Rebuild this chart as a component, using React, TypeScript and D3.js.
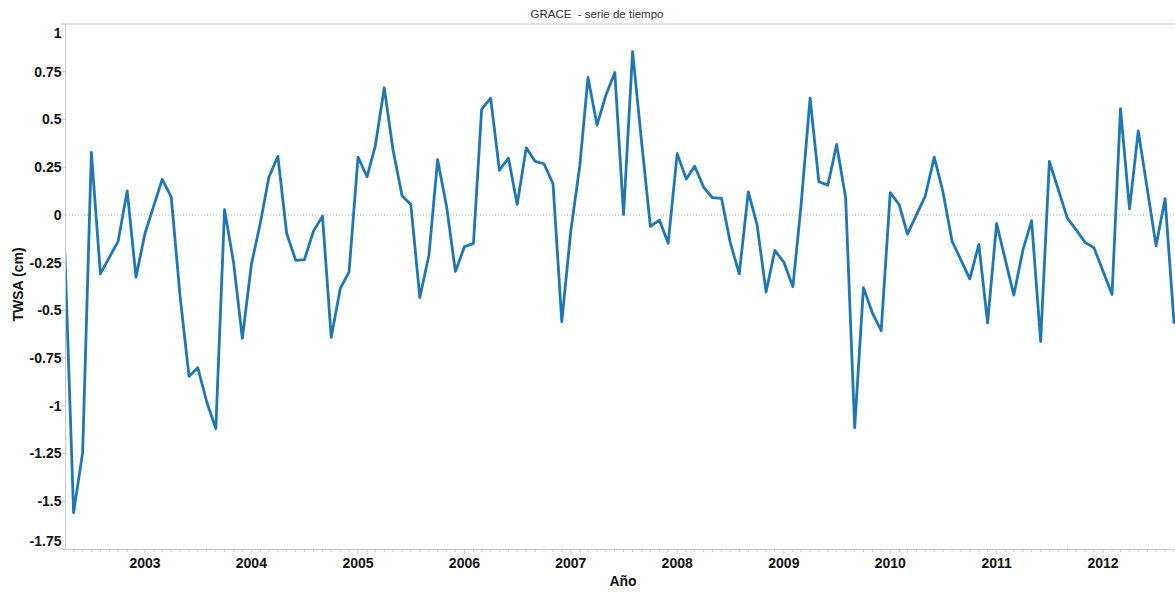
import React from 'react';
import * as d3 from 'd3';

// monthly GRACE series (some months are missing in the source)
const months = [
  '2002-04', '2002-05', '2002-06', '2002-07', '2002-08', '2002-10', '2002-11', '2002-12',
  '2003-01', '2003-03', '2003-04', '2003-05', '2003-06', '2003-07', '2003-08', '2003-09', '2003-10', '2003-11', '2003-12',
  '2004-01', '2004-02', '2004-03', '2004-04', '2004-05', '2004-06', '2004-07', '2004-08', '2004-09', '2004-10', '2004-11', '2004-12',
  '2005-01', '2005-02', '2005-03', '2005-04', '2005-05', '2005-06', '2005-07', '2005-08', '2005-09', '2005-10', '2005-11', '2005-12',
  '2006-01', '2006-02', '2006-03', '2006-04', '2006-05', '2006-06', '2006-07', '2006-08', '2006-09', '2006-10', '2006-11', '2006-12',
  '2007-01', '2007-02', '2007-03', '2007-04', '2007-05', '2007-06', '2007-07', '2007-08', '2007-09', '2007-10', '2007-11', '2007-12',
  '2008-01', '2008-02', '2008-03', '2008-04', '2008-05', '2008-06', '2008-07', '2008-08', '2008-09', '2008-10', '2008-11', '2008-12',
  '2009-01', '2009-02', '2009-03', '2009-04', '2009-05', '2009-06', '2009-07', '2009-08', '2009-09', '2009-10', '2009-11', '2009-12',
  '2010-01', '2010-02', '2010-03', '2010-05', '2010-06', '2010-07', '2010-08', '2010-10', '2010-11', '2010-12',
  '2011-01', '2011-03', '2011-04', '2011-05', '2011-06', '2011-07', '2011-09', '2011-10', '2011-11', '2011-12',
  '2012-02', '2012-03', '2012-04', '2012-05', '2012-07', '2012-08', '2012-09',
];

const twsa = [
  -0.195, -1.56, -1.245, 0.328, -0.309, -0.137, 0.126, -0.326,
  -0.096, 0.186, 0.094, -0.42, -0.846, -0.8, -0.98, -1.12, 0.027, -0.25, -0.647,
  -0.26, -0.04, 0.197, 0.307, -0.096, -0.238, -0.234, -0.085, -0.007, -0.642, -0.385, -0.3,
  0.303, 0.2, 0.36, 0.666, 0.34, 0.1, 0.055, -0.433, -0.213, 0.289, 0.041, -0.296,
  -0.167, -0.149, 0.553, 0.612, 0.234, 0.298, 0.055, 0.351, 0.28, 0.268, 0.163, -0.559,
  -0.083, 0.259, 0.72, 0.47, 0.626, 0.746, 0.002, 0.855, 0.38, -0.06, -0.027, -0.149,
  0.321, 0.188, 0.255, 0.144, 0.09, 0.087, -0.145, -0.309, 0.121, -0.051, -0.404, -0.186,
  -0.248, -0.376, 0.05, 0.612, 0.174, 0.156, 0.369, 0.09, -1.115, -0.381, -0.514, -0.606,
  0.117, 0.053, -0.101, 0.098, 0.303, 0.12, -0.137, -0.335, -0.154, -0.566,
  -0.045, -0.42, -0.186, -0.03, -0.663, 0.28, -0.018, -0.078, -0.145, -0.172,
  -0.417, 0.557, 0.032, 0.44, -0.161, 0.085, -0.57,
];

const yTicks = [1, 0.75, 0.5, 0.25, 0, -0.25, -0.5, -0.75, -1, -1.25, -1.5, -1.75];
const yearTicks = ['2003', '2004', '2005', '2006', '2007', '2008', '2009', '2010', '2011', '2012'];

const W = 1175;
const H = 592;
const left = 66;
const right = 1175;
const top = 24;
const bottom = 549;
const font = '"Liberation Sans", Arial, Helvetica, sans-serif';

const parseMonth = d3.timeParse('%Y-%m');
const parseYear = d3.timeParse('%Y');

// anchor the time scale on the year ticks, then stretch it to the plot edges
const anchor = d3
  .scaleTime()
  .domain([parseYear(yearTicks[0]), parseYear(yearTicks[yearTicks.length - 1])])
  .range([145, 1103]);
const x = d3.scaleTime().domain([anchor.invert(left), anchor.invert(right)]).range([left, right]);
const y = d3.scaleLinear().domain([-1.75, 1]).range([bottom, top]);

const App = () => {
  const points = months.map((m, i) => [parseMonth(m), twsa[i]]);
  const line = d3
    .line()
    .x((d) => x(d[0]))
    .y((d) => y(d[1]));

  const monthTicks = x.ticks(d3.timeMonth.every(1));

  return (
    <svg
      width={W}
      height={H}
      style={{ position: 'absolute', left: 0, top: 0, background: '#fff' }}
      fontFamily={font}
    >
      <defs>
        <clipPath id="plot">
          <rect x={left} y={top - 2} width={right - left} height={bottom - top + 4} />
        </clipPath>
      </defs>

      <text x={597} y={18} textAnchor="middle" fontSize={11.5} fill="#333" style={{ whiteSpace: 'pre' }}>
        {'GRACE  - serie de tiempo'}
      </text>

      {/* frame */}
      <line x1={left - 4} x2={right} y1={top} y2={top} stroke="#c8c8c8" />
      <line x1={left - 0.5} x2={left - 0.5} y1={top} y2={bottom} stroke="#c8c8c8" />
      <line x1={left - 4} x2={right} y1={bottom + 0.5} y2={bottom + 0.5} stroke="#c8c8c8" />

      {/* zero line */}
      <line
        x1={left}
        x2={right}
        y1={y(0)}
        y2={y(0)}
        stroke="#aaa"
        strokeDasharray="1,2"
      />

      {/* y axis */}
      {yTicks.map((t) => {
        const ty = y(t);
        const labelY = Math.min(Math.max(ty, top + 9), bottom - 8);
        return (
          <g key={t}>
            <line x1={left - 5} x2={left - 1} y1={ty} y2={ty} stroke="#c8c8c8" />
            <text
              x={61.5}
              y={labelY}
              dy="0.35em"
              textAnchor="end"
              fontSize={14}
              fontWeight="bold"
              fill="#111"
            >
              {String(t)}
            </text>
          </g>
        );
      })}

      {/* x axis */}
      {monthTicks.map((d) => (
        <line
          key={+d}
          x1={x(d)}
          x2={x(d)}
          y1={bottom + 1}
          y2={d.getMonth() === 0 ? bottom + 5 : bottom + 3}
          stroke="#c8c8c8"
        />
      ))}
      {yearTicks.map((yr) => (
        <text
          key={yr}
          x={x(parseYear(yr))}
          y={568}
          textAnchor="middle"
          fontSize={14}
          fontWeight="bold"
          fill="#111"
        >
          {yr}
        </text>
      ))}

      <text x={623} y={586} textAnchor="middle" fontSize={14} fontWeight="bold" fill="#111">
        Año
      </text>
      <text
        transform="translate(22.5,284.5) rotate(-90)"
        textAnchor="middle"
        fontSize={14}
        fontWeight="bold"
        fill="#111"
      >
        TWSA (cm)
      </text>

      <path
        d={line(points)}
        fill="none"
        stroke="#1f77b4"
        strokeWidth={2.8}
        strokeLinejoin="round"
        clipPath="url(#plot)"
      />
    </svg>
  );
};

export default App;
